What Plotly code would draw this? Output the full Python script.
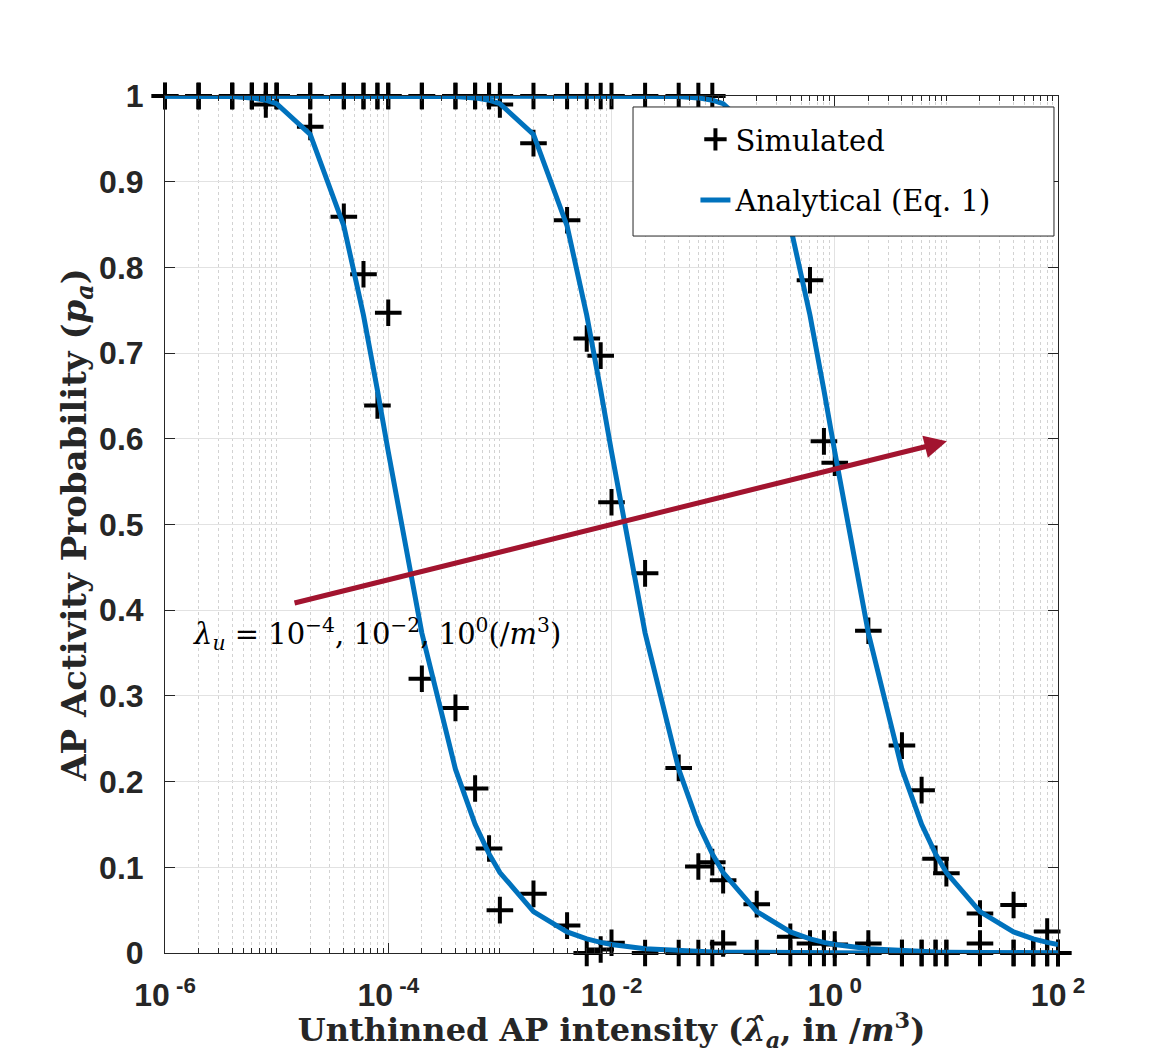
import plotly.graph_objects as go

# ---------------- data ----------------
x_vals = [1e-6, 2e-6, 4e-6, 6e-6, 8e-6,
          1e-5, 2e-5, 4e-5, 6e-5, 8e-5,
          1e-4, 2e-4, 4e-4, 6e-4, 8e-4,
          1e-3, 2e-3, 4e-3, 6e-3, 8e-3,
          1e-2, 2e-2, 4e-2, 6e-2, 8e-2,
          1e-1, 2e-1, 4e-1, 6e-1, 8e-1,
          1, 2, 4, 6, 8,
          10, 20, 40, 60, 80,
          100]

# Analytical curves (lambda_u = 1e-4, 1e-2, 1e0)
ana_1e4 = [1.0, 0.9999, 0.9994, 0.9978, 0.9951,
           0.9911, 0.9552, 0.8484, 0.7442, 0.6566,
           0.5850, 0.3734, 0.2145, 0.1502, 0.1156,
           0.0939, 0.0484, 0.0246, 0.0165, 0.0124,
           0.0100, 0.0050, 0.0025, 0.0017, 0.0013,
           0.0010, 0.0005, 0.00025, 0.00017, 0.00013,
           0.0001, 0.00005, 0.00003, 0.00002, 0.00001,
           0.00001, 0.0, 0.0, 0.0, 0.0,
           0.0]
ana_1e2 = [1.0, 1.0, 1.0, 1.0, 1.0,
           1.0, 1.0, 1.0, 1.0, 1.0,
           1.0, 0.9999, 0.9994, 0.9978, 0.9951,
           0.9911, 0.9552, 0.8484, 0.7442, 0.6566,
           0.5850, 0.3734, 0.2145, 0.1502, 0.1156,
           0.0939, 0.0484, 0.0246, 0.0165, 0.0124,
           0.0100, 0.0050, 0.0025, 0.0017, 0.0013,
           0.0010, 0.0005, 0.00025, 0.00017, 0.00013,
           0.0001]
ana_1e0 = [1.0, 1.0, 1.0, 1.0, 1.0,
           1.0, 1.0, 1.0, 1.0, 1.0,
           1.0, 1.0, 1.0, 1.0, 1.0,
           1.0, 1.0, 1.0, 1.0, 1.0,
           1.0, 0.9999, 0.9994, 0.9978, 0.9951,
           0.9911, 0.9552, 0.8484, 0.7442, 0.6566,
           0.5850, 0.3734, 0.2145, 0.1502, 0.1156,
           0.0939, 0.0484, 0.0246, 0.0165, 0.0124,
           0.0100]

# Simulated points
sim_1e4 = [1.0, 1.0, 1.0, 1.0, 0.99,
           1.0, 0.964, 0.859, 0.792, 0.639,
           0.747, 0.320, 0.286, 0.192, 0.122,
           0.050, 0.069, 0.032, 0.0, 0.004,
           0.012, 0.0, 0.0, 0.0, 0.0,
           0.011, 0.0, 0.0, 0.0, 0.0,
           0.0, 0.0, 0.0, 0.0, 0.0,
           0.0, 0.0, 0.0, 0.0, 0.0,
           0.0]
sim_1e2 = [1.0, 1.0, 1.0, 1.0, 1.0,
           1.0, 1.0, 1.0, 1.0, 1.0,
           1.0, 1.0, 1.0, 1.0, 1.0,
           0.990, 0.945, 0.855, 0.717, 0.697,
           0.526, 0.443, 0.216, 0.101, 0.106,
           0.085, 0.057, 0.019, 0.011, 0.011,
           0.010, 0.011, 0.0, 0.0, 0.0,
           0.0, 0.011, 0.0, 0.0, 0.0,
           0.0]
sim_1e0 = [1.0, 1.0, 1.0, 1.0, 1.0,
           1.0, 1.0, 1.0, 1.0, 1.0,
           1.0, 1.0, 1.0, 1.0, 1.0,
           1.0, 1.0, 1.0, 1.0, 1.0,
           1.0, 1.0, 1.0, 1.0, 1.0,
           0.970, 0.950, 0.860, 0.785, 0.597,
           0.572, 0.376, 0.242, 0.190, 0.110,
           0.093, 0.046, 0.056, 0.0, 0.025,
           0.0]

x_tickvals = [1e-6, 1e-4, 1e-2, 1, 1e2]
x_ticktext = ["10<sup> -6</sup>", "10<sup> -4</sup>", "10<sup> -2</sup>",
              "10<sup> 0</sup>", "10<sup> 2</sup>"]
y_tickvals = [0, 0.1, 0.2, 0.3, 0.4, 0.5, 0.6, 0.7, 0.8, 0.9, 1]
y_ticktext = ["0", "0.1", "0.2", "0.3", "0.4", "0.5", "0.6", "0.7", "0.8", "0.9", "1"]

BLUE = "#0072BD"
DARK = "#262626"
SERIF = "DejaVu Serif"
SANS = "Liberation Sans"

fig = go.Figure()

sims = [sim_1e4, sim_1e2, sim_1e0]
anas = [ana_1e4, ana_1e2, ana_1e0]

for i, s in enumerate(sims):
    fig.add_trace(go.Scatter(
        x=x_vals, y=s, mode="markers", name="Simulated",
        legendgroup="sim", showlegend=(i == 0), cliponaxis=False,
        marker=dict(symbol="cross-thin", size=19, color="black",
                    line=dict(color="black", width=4)),
    ))
for i, a in enumerate(anas):
    fig.add_trace(go.Scatter(
        x=x_vals, y=a, mode="lines", name="Analytical (Eq. 1)",
        legendgroup="ana", showlegend=(i == 0),
        line=dict(color=BLUE, width=5),
    ))

# Arrow and label
fig.add_annotation(
    x=1.005, y=0.597, xref="x", yref="y",
    ax=-4.853, ay=0.408, axref="x", ayref="y",
    showarrow=True, arrowhead=2, arrowsize=0.9, arrowwidth=5,
    arrowcolor="#A2142F", text="", standoff=0,
)
fig.add_annotation(
    x=-4.1, y=0.372, xref="x", yref="y", showarrow=False,
    text="<i>λ<sub>u</sub></i> = 10<sup>−4</sup>, 10<sup>−2</sup>, 10<sup>0</sup>(/<i>m</i><sup>3</sup>)",
    font=dict(family=SERIF, size=29, color="black"),
)

# legend box
fig.add_shape(type="rect", xref="paper", yref="paper",
              x0=0.5241, x1=0.9955, y0=0.8366, y1=0.9872,
              fillcolor="white", line=dict(color=DARK, width=1), layer="above")

fig.update_xaxes(
    type="log", range=[-6, 2],
    tickmode="array", tickvals=x_tickvals, ticktext=x_ticktext,
    tickfont=dict(family=SANS, size=32, color=DARK, weight="bold"),
    ticks="inside", ticklen=10, tickcolor=DARK, tickwidth=1,
    showline=True, linecolor=DARK, linewidth=1, mirror="ticks",
    showgrid=True, gridcolor="#e2e2e2", gridwidth=1,
    minor=dict(dtick="D1", ticks="inside", ticklen=5, tickcolor=DARK,
               showgrid=True, gridcolor="#d2d2d2", griddash="dot", gridwidth=1),
    zeroline=False, ticklabelstandoff=14,
    title=dict(text="Unthinned AP intensity (<i>λ̂</i><sub><i>a</i></sub>, in /<i>m</i><sup>3</sup>)",
               font=dict(family=SERIF, size=32, color=DARK, weight="bold"), standoff=2),
)
fig.update_yaxes(
    range=[0, 1],
    tickmode="array", tickvals=y_tickvals, ticktext=y_ticktext,
    tickfont=dict(family=SANS, size=32, color=DARK, weight="bold"),
    ticks="inside", ticklen=10, tickcolor=DARK, tickwidth=1,
    showline=True, linecolor=DARK, linewidth=1, mirror="ticks",
    showgrid=True, gridcolor="#e2e2e2", gridwidth=1,
    zeroline=False, ticklabelstandoff=14,
    title=dict(text="AP Activity Probability (<i>p<sub>a</sub></i>)",
               font=dict(family=SERIF, size=34, color=DARK, weight="bold"), standoff=2),
)

fig.update_layout(
    width=1153, height=1053, autosize=False,
    margin=dict(l=165, r=95, t=96, b=100),
    paper_bgcolor="white", plot_bgcolor="white",
    legend=dict(x=0.594, y=0.979, xanchor="left", yanchor="top",
                bgcolor="rgba(0,0,0,0)", borderwidth=0,
                font=dict(family=SERIF, size=29, color="black"),
                tracegroupgap=20),
)

fig.write_html("out.html")
